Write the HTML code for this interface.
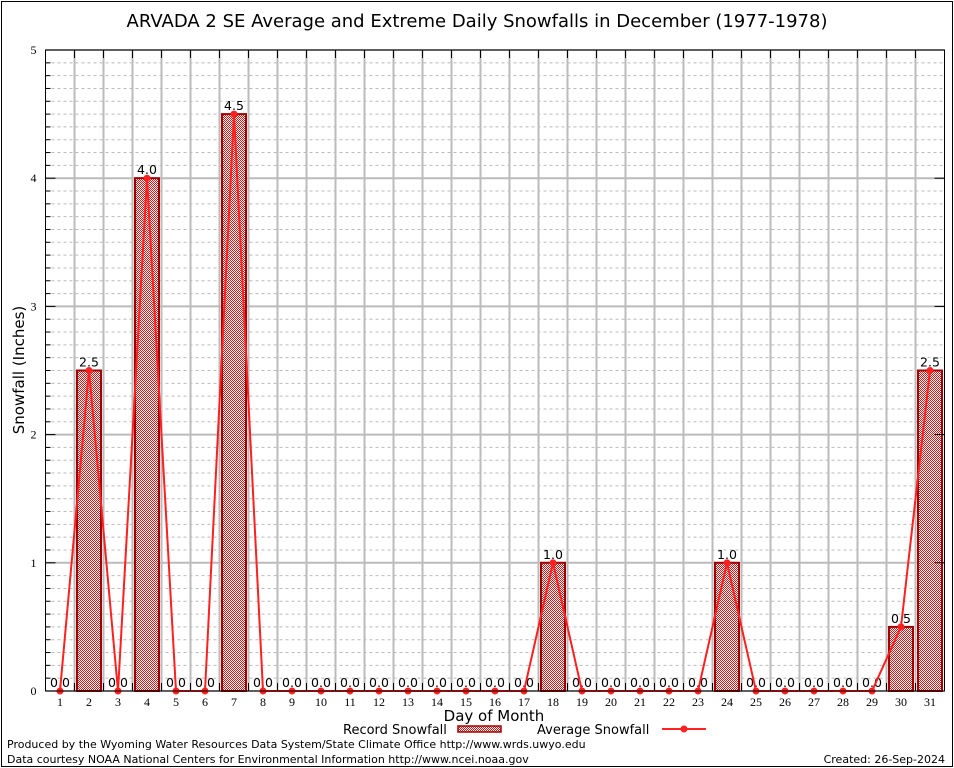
<!DOCTYPE html>
<html><head><meta charset="utf-8"><style>
body{margin:0;background:#fff;}
svg{display:block;font-family:"DejaVu Sans","Liberation Sans",sans-serif;}
</style></head><body>
<svg id="chart" width="954" height="768" viewBox="0 0 954 768">
<defs>
<pattern id="hatch" width="2" height="2" patternUnits="userSpaceOnUse">
<rect width="2" height="2" fill="#fff"/>
<rect width="1" height="1" fill="#e01818"/>
<rect x="1" y="1" width="1" height="1" fill="#e01818"/>
</pattern>
</defs>
<rect x="1.5" y="1.5" width="951" height="765" fill="none" stroke="#000" stroke-width="1"/>
<text x="477" y="27" text-anchor="middle" font-size="18">ARVADA 2 SE Average and Extreme Daily Snowfalls in December (1977-1978)</text>
<g id="grid"></g>
<g id="bars"></g>
<g id="line"></g>
<g id="axes"></g>
<text x="24" y="370" transform="rotate(-90 24 370)" text-anchor="middle" font-size="15">Snowfall (Inches)</text>
<text x="494" y="721" text-anchor="middle" font-size="15">Day of Month</text>
<g>
<text x="343" y="734" font-size="13">Record Snowfall</text>
<rect x="458" y="726" width="43" height="6" fill="url(#hatch)" stroke="#a00000" stroke-width="1.5"/>
<text x="537" y="734" font-size="13">Average Snowfall</text>
<line x1="662" y1="729" x2="706" y2="729" stroke="#ff2020" stroke-width="2"/>
<circle cx="684" cy="729" r="3.5" fill="#ff2020"/>
</g>
<text x="7" y="748" font-size="11">Produced by the Wyoming Water Resources Data System/State Climate Office http://www.wrds.uwyo.edu</text>
<text x="7" y="763" font-size="11">Data courtesy NOAA National Centers for Environmental Information http://www.ncei.noaa.gov</text>
<text x="945" y="763" text-anchor="end" font-size="11">Created:  26-Sep-2024</text>
</svg>
<script>
const days = [1,2,3,4,5,6,7,8,9,10,11,12,13,14,15,16,17,18,19,20,21,22,23,24,25,26,27,28,29,30,31];
const recordValues = [0,2.5,0,4.0,0,0,4.5,0,0,0,0,0,0,0,0,0,0,1.0,0,0,0,0,0,1.0,0,0,0,0,0,0.5,2.5];
const averageValues = [0,2.5,0,4.0,0,0,4.5,0,0,0,0,0,0,0,0,0,0,1.0,0,0,0,0,0,1.0,0,0,0,0,0,0.5,2.5];
const yTicks = [0,1,2,3,4,5];

const NS='http://www.w3.org/2000/svg';
const L=45.5,R=944.5,T=50,B=691,YMAX=5;
const step=(R-L)/days.length;
const xs=d=>L+step*(d-0.5);
const ys=v=>B-(v/YMAX)*(B-T);
function mk(tag,attrs,parent){const e=document.createElementNS(NS,tag);for(const k in attrs)e.setAttribute(k,attrs[k]);parent.appendChild(e);return e;}
const grid=document.getElementById('grid'),bars=document.getElementById('bars'),line=document.getElementById('line'),axes=document.getElementById('axes');

for(let v=0;v<YMAX;v+=0.1){
  const r=Math.round(v*10)/10; if(Number.isInteger(r))continue;
  const g=mk('line',{x1:L,x2:R,y1:ys(r),y2:ys(r),stroke:'#bbb','stroke-dasharray':'3,3'},grid);
  
  
  const t=mk('line',{x1:L,x2:L+5,y1:ys(r),y2:ys(r),stroke:'#000'},axes);
  
  
}
yTicks.forEach(v=>{
  const g=mk('line',{x1:L,x2:R,y1:ys(v),y2:ys(v),stroke:'#bbb','stroke-width':2},grid);
  
  
  const t=mk('text',{x:L-9,y:ys(v)+4,'text-anchor':'end','font-size':12,'font-family':'Liberation Serif, serif'},axes);
  t.textContent=v;
  
  
  mk('line',{x1:L,x2:L+10,y1:ys(v),y2:ys(v),stroke:'#000'},axes);
  mk('line',{x1:R,x2:R-10,y1:ys(v),y2:ys(v),stroke:'#000'},axes);
});
for(let i=1;i<days.length;i++){
  const x=L+step*i;
  const g=mk('line',{x1:x,x2:x,y1:T,y2:B,stroke:'#bbb','stroke-width':2},grid);
  
  
  mk('line',{x1:x,x2:x,y1:T,y2:T+8,stroke:'#000'},axes);
  mk('line',{x1:x,x2:x,y1:B,y2:B-8,stroke:'#000'},axes);
}
days.forEach((d,i)=>{
  const v=recordValues[i];
  if(v>0){
    const b=mk('rect',{x:xs(d)-12,y:ys(v),width:24,height:B-ys(v),fill:'url(#hatch)',stroke:'#a00000','stroke-width':2},bars);
    
    
  }
  const lab=mk('text',{x:xs(d),y:ys(v)-4,'text-anchor':'middle','font-size':12.5},bars);
  lab.textContent=v.toFixed(1);
  
  
  const xl=mk('text',{x:xs(d),y:B+15,'text-anchor':'middle','font-size':12,'font-family':'Liberation Serif, serif'},axes);
  xl.textContent=d;
  
  
});
const pl=mk('polyline',{points:days.map((d,i)=>xs(d)+','+ys(averageValues[i])).join(' '),fill:'none',stroke:'#ff2020','stroke-width':2},line);


days.forEach((d,i)=>{
  const c=mk('circle',{cx:xs(d),cy:ys(averageValues[i]),r:3.5,fill:'#ff2020'},line);
  
  
});
const fr=mk('rect',{x:L,y:T,width:R-L,height:B-T,fill:'none',stroke:'#000','stroke-width':1},axes);


</script>
</body></html>
